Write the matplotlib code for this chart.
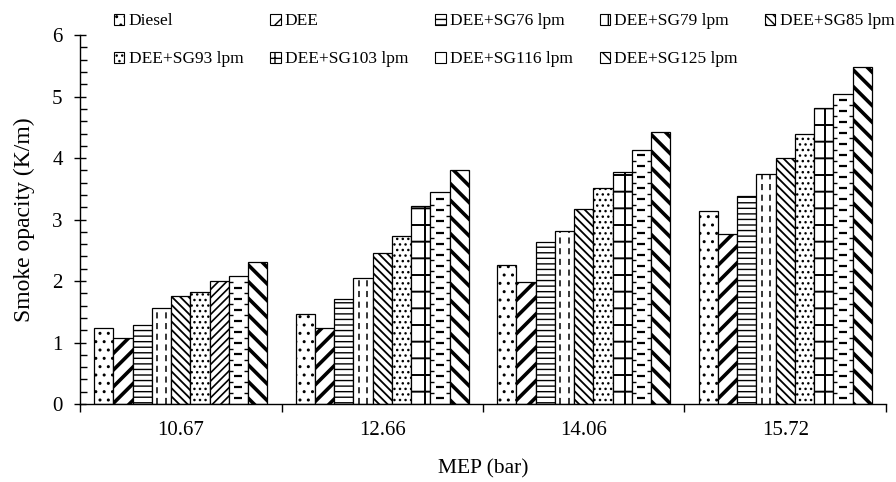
import numpy as np
import matplotlib.pyplot as plt
from matplotlib.patches import Patch
from matplotlib.ticker import FixedLocator, MultipleLocator, NullFormatter

plt.rcParams['font.family'] = ['Liberation Serif', 'DejaVu Serif']
plt.rcParams['hatch.color'] = 'black'

# smoke opacity (K/m) at each MEP
mep = ['10.67', '12.66', '14.06', '15.72']
labels = ['Diesel', 'DEE', 'DEE+SG76 lpm', 'DEE+SG79 lpm', 'DEE+SG85 lpm',
          'DEE+SG93 lpm', 'DEE+SG103 lpm', 'DEE+SG116 lpm', 'DEE+SG125 lpm']
diesel = [1.23, 1.47, 2.26, 3.14]
dee = [1.07, 1.23, 1.99, 2.76]
sg76 = [1.28, 1.71, 2.64, 3.38]
sg79 = [1.57, 2.05, 2.82, 3.74]
sg85 = [1.75, 2.46, 3.17, 4.00]
sg93 = [1.83, 2.73, 3.51, 4.39]
sg103 = [2.00, 3.22, 3.77, 4.81]
sg116 = [2.09, 3.45, 4.14, 5.05]
sg125 = [2.31, 3.80, 4.42, 5.49]
series = [diesel, dee, sg76, sg79, sg85, sg93, sg103, sg116, sg125]

hatches = ['..', '//', '---', '', '\\\\\\\\', '...', '+', '', '\\\\']
legend_hatches = ['..', '//', '---', '|', '\\\\\\\\', '...', '+', '', '\\\\']
hatch_lw = {1: 2.6, 8: 2.6, 6: 1.4, 4: 1.3}

fig, ax = plt.subplots(figsize=(8.96, 4.82), dpi=100)
fig.subplots_adjust(left=0.0893, right=0.9888, bottom=0.1618, top=0.927)

x = np.arange(len(mep))
width = 0.0955
containers = []
for i, vals in enumerate(series):
    bars = ax.bar(x + (i - 4) * width, vals, width, color='white',
                  edgecolor='black', linewidth=0.9, hatch=hatches[i] or None,
                  zorder=2)
    if i in hatch_lw:
        for b in bars:
            if hasattr(b, 'set_hatch_linewidth'):
                b.set_hatch_linewidth(hatch_lw[i])
    containers.append(bars)

# first SG103 bar uses a dense diagonal fill
containers[6][0].set_hatch('////')
if hasattr(containers[6][0], 'set_hatch_linewidth'):
    containers[6][0].set_hatch_linewidth(1.2)

# SG79: two dashed vertical lines inside each bar
for b in containers[3]:
    x0, w, h = b.get_x(), b.get_width(), b.get_height()
    for frac in (0.27, 0.73):
        ln, = ax.plot([x0 + frac * w] * 2, [0, h], color='black', lw=1.1,
                      ls=(0, (4, 3)), zorder=3)
        ln.set_clip_path(b)

# SG116: staggered short dashes
for b in containers[7]:
    x0, w, h = b.get_x(), b.get_width(), b.get_height()
    yc = np.arange(0.09, h - 0.05, 0.18)
    ye = np.arange(0.18, h - 0.05, 0.18)
    ax.plot(np.full(len(yc), x0 + 0.5 * w), yc, ls='none', marker='_',
            ms=6, mew=1.6, color='black', zorder=3)
    for xe in (x0, x0 + w):
        m, = ax.plot(np.full(len(ye), xe), ye, ls='none', marker='_',
                     ms=6, mew=1.0, color='black', zorder=3)
        m.set_clip_path(b)

ax.set_xlim(-0.5, len(mep) - 0.5)
ax.set_ylim(0, 6)
ax.spines['top'].set_visible(False)
ax.spines['right'].set_visible(False)
ax.spines['left'].set_linewidth(1.0)
ax.spines['bottom'].set_linewidth(1.0)

# category boundaries carry the ticks, labels sit at the centres
ax.xaxis.set_major_locator(FixedLocator(np.arange(-0.5, len(mep), 1.0)))
ax.xaxis.set_major_formatter(NullFormatter())
ax.xaxis.set_minor_locator(FixedLocator(x))
ax.set_xticklabels(mep, minor=True)
ax.tick_params(axis='x', which='major', direction='out', length=6, width=1)
ax.tick_params(axis='x', which='minor', length=0, pad=12, labelsize=15)

ax.yaxis.set_major_locator(MultipleLocator(1))
ax.yaxis.set_minor_locator(MultipleLocator(0.2))
ax.tick_params(axis='y', which='major', direction='inout', length=9, width=1,
               labelsize=15, pad=8)
ax.tick_params(axis='y', which='minor', direction='in', length=5, width=1)

ax.set_xlabel('MEP (bar)', fontsize=15.5, labelpad=14)
ax.set_ylabel('Smoke opacity (K/m)', fontsize=17, labelpad=12)

handles = [Patch(facecolor='white', edgecolor='black', linewidth=0.8,
                 hatch=h or None) for h in legend_hatches]
order = [0, 5, 1, 6, 2, 7, 3, 8, 4]
fig.legend([handles[k] for k in order], [labels[k] for k in order],
           loc='upper left', bbox_to_anchor=(0.127, 0.972), ncol=5,
           frameon=False, fontsize=12.5, handlelength=0.6, handleheight=0.6,
           handletextpad=0.25, columnspacing=1.55, labelspacing=1.25,
           borderpad=0, borderaxespad=0)

fig.savefig('out.png', dpi=100)
